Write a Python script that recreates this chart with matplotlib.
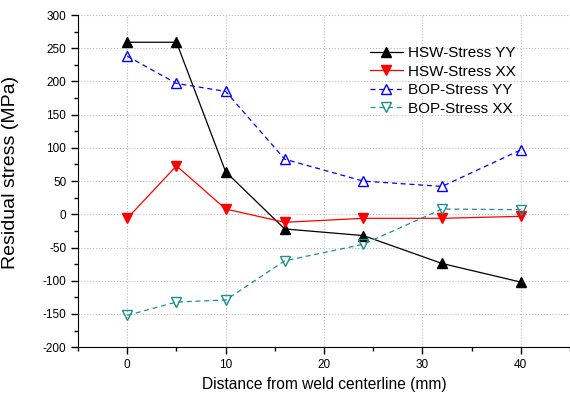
import matplotlib
matplotlib.use("Agg")
import matplotlib.pyplot as plt
from matplotlib.ticker import MultipleLocator

plt.rcParams['font.family'] = ['Liberation Sans', 'DejaVu Sans']
plt.rcParams['axes.unicode_minus'] = False

distance = [0, 5, 10, 16, 24, 32, 40]
hsw_yy = [259, 259, 64, -22, -32, -74, -102]
hsw_xx = [-6, 73, 8, -12, -6, -6, -3]
bop_yy = [238, 197, 185, 83, 50, 42, 97]
bop_xx = [-152, -132, -129, -70, -45, 8, 7]

fig = plt.figure(figsize=(5.7, 3.95), dpi=100)
ax = fig.add_axes([0.137, 0.121, 0.863, 0.841])

ax.plot(distance, hsw_yy, color="black", lw=0.9, marker="^", ms=6.5,
        label="HSW-Stress YY")
ax.plot(distance, hsw_xx, color="red", lw=0.9, marker="v", ms=6.5,
        label="HSW-Stress XX")
ax.plot(distance, bop_yy, color="blue", lw=0.9, ls=(0, (4, 3)), marker="^",
        ms=6.5, mfc="none", label="BOP-Stress YY")
ax.plot(distance, bop_xx, color="#1a9090", lw=0.9, ls=(0, (4, 3)), marker="v",
        ms=6.5, mfc="none", label="BOP-Stress XX")

ax.set_xlim(-5, 45)
ax.set_ylim(-200, 300)
ax.set_xticks([0, 10, 20, 30, 40])
ax.xaxis.set_minor_locator(MultipleLocator(5))
ax.yaxis.set_major_locator(MultipleLocator(50))
ax.yaxis.set_minor_locator(MultipleLocator(25))
ax.grid(True, color="#bbbbbb", ls=":", lw=0.8)
ax.set_axisbelow(True)

for s in ["top", "right"]:
    ax.spines[s].set_visible(False)
ax.tick_params(which="major", length=5, width=1, labelsize=8.5)
ax.tick_params(which="minor", length=3, width=1)

ax.set_xlabel("Distance from weld centerline (mm)", fontsize=11.2, labelpad=4)
ax.set_ylabel("Residual stress (MPa)", fontsize=14)
ax.yaxis.set_label_coords(-0.12, 0.527)

ax.legend(loc="upper left", bbox_to_anchor=(0.58, 0.925), frameon=False,
          fontsize=11, handlelength=2.2, handletextpad=0.3, labelspacing=0.3,
          borderaxespad=0)

fig.savefig("out.png", dpi=100)
